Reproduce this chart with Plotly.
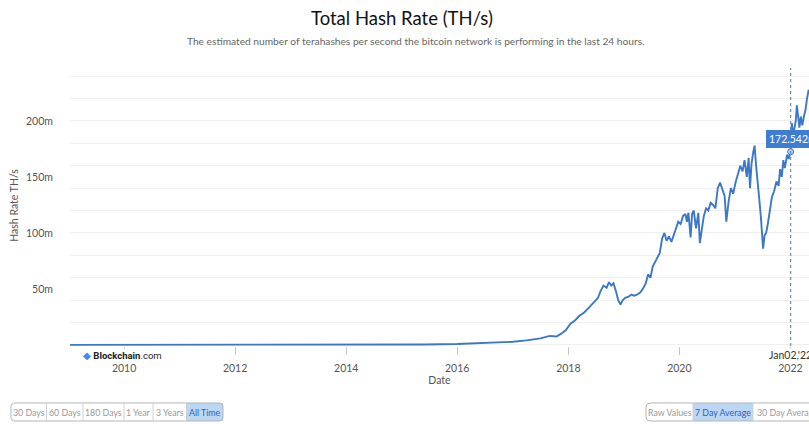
import plotly.graph_objects as go

# ---------------- data (values in millions TH/s) ----------------
dates = [
    "2009-01-10", "2010-06-01", "2011-06-01", "2012-06-01", "2013-06-01", "2014-01-01", "2014-06-01",
    "2015-01-01", "2015-06-01", "2016-01-01", "2016-06-01", "2016-10-01", "2017-01-01", "2017-04-01",
    "2017-07-01", "2017-09-01", "2017-10-15", "2017-11-15", "2017-12-15", "2018-01-15", "2018-02-15",
    "2018-03-15", "2018-04-15", "2018-05-15", "2018-06-15", "2018-07-15", "2018-08-01", "2018-08-20",
    "2018-09-10", "2018-09-25", "2018-10-10", "2018-10-25", "2018-11-10", "2018-11-25", "2018-12-10",
    "2018-12-25", "2019-01-10", "2019-02-01", "2019-02-20", "2019-03-10", "2019-04-01", "2019-04-20",
    "2019-05-10", "2019-05-25", "2019-06-10", "2019-06-25", "2019-07-10", "2019-07-25", "2019-08-10",
    "2019-08-25", "2019-09-10", "2019-09-25", "2019-10-10", "2019-10-25", "2019-11-10", "2019-11-25",
    "2019-12-10", "2019-12-25", "2020-01-10", "2020-01-25", "2020-02-10", "2020-02-20", "2020-03-01",
    "2020-03-15", "2020-03-25", "2020-04-05", "2020-04-20", "2020-05-05", "2020-05-15", "2020-05-25",
    "2020-06-10", "2020-06-25", "2020-07-10", "2020-07-25", "2020-08-10", "2020-08-25", "2020-09-10",
    "2020-09-25", "2020-10-10", "2020-10-25", "2020-11-05", "2020-11-20", "2020-12-05", "2020-12-20",
    "2021-01-05", "2021-01-20", "2021-02-05", "2021-02-20", "2021-03-05", "2021-03-20", "2021-04-01",
    "2021-04-10", "2021-04-20", "2021-05-01", "2021-05-10", "2021-05-20", "2021-05-28", "2021-06-10",
    "2021-06-20", "2021-07-01", "2021-07-05", "2021-07-15", "2021-07-25", "2021-08-05", "2021-08-20",
    "2021-09-01", "2021-09-15", "2021-10-01", "2021-10-15", "2021-10-25", "2021-11-05", "2021-11-15",
    "2021-11-25", "2021-12-10", "2021-12-20", "2022-01-02", "2022-01-10", "2022-01-18", "2022-01-25",
    "2022-02-05", "2022-02-12", "2022-02-22", "2022-03-01", "2022-03-10", "2022-03-20", "2022-04-01",
    "2022-04-10", "2022-04-20", "2022-05-01",
]
hash_rate_m = [
    0.0, 0.0, 0.00001, 0.00002, 0.0002, 0.01, 0.09,
    0.3, 0.38, 0.8, 1.4, 1.8, 2.8, 4.0,
    5.8, 8.0, 7.5, 10, 13, 19, 22,
    26, 29, 33, 38, 42, 48, 53,
    51, 56, 53, 55, 48, 40, 36,
    40, 42, 43, 45, 44, 45, 47,
    51, 55, 63, 60, 70, 74, 78,
    82, 95, 100, 93, 97, 92, 98,
    102, 110, 108, 115, 117, 110, 118,
    96, 117, 120, 104, 118, 91, 100,
    115, 122, 120, 127, 125, 122, 140,
    145, 138, 133, 110, 128, 140, 135,
    145, 152, 160, 155, 165, 150, 167,
    140, 162, 172, 178, 160, 150, 130,
    115, 95, 86, 98, 100, 108, 120,
    132, 137, 146, 142, 157, 150, 165,
    158, 170, 166, 172.542, 198, 188, 192,
    200, 214, 200, 194, 204, 196, 205,
    210, 220, 228,
]
cursor_date = "2022-01-02"
cursor_value = 172.542
cursor_label = "Jan02,'22"
y_label_ticks = [50, 100, 150, 200]
y_grid_ticks = list(range(0, 241, 20))
range_buttons = ["30 Days", "60 Days", "180 Days", "1 Year", "3 Years", "All Time"]
avg_buttons = ["Raw Values", "7 Day Average", "30 Day Average"]

# ---------------- geometry (window pixels) ----------------
W, H = 809, 424
L, R_PX, T, B_PX = 70, 809, 65, 346          # plot area
Y_RANGE = [-1, 250]


def px(x):
    return (x - L) / (R_PX - L)


def py(y):
    return (B_PX - y) / (B_PX - T)


BLUE = "#3b78c9"
FONT = "Lato, 'Open Sans', sans-serif"

fig = go.Figure()
fig.add_trace(go.Scatter(
    x=dates, y=hash_rate_m, mode="lines",
    line=dict(color=BLUE, width=1.9), hoverinfo="skip", showlegend=False,
))
fig.add_trace(go.Scatter(
    x=[cursor_date], y=[cursor_value], mode="markers",
    marker=dict(size=6, color="#b7cdee", line=dict(color=BLUE, width=1)),
    hoverinfo="skip", showlegend=False,
))
# invisible trace so that the label axis is rendered
fig.add_trace(go.Scatter(
    x=[dates[0]], y=[hash_rate_m[0]], yaxis="y2", mode="markers",
    marker=dict(opacity=0), hoverinfo="skip", showlegend=False,
))

shapes = []
annotations = []

# crosshair
shapes.append(dict(type="line", xref="x", yref="paper", x0=cursor_date, x1=cursor_date,
                   y0=0, y1=py(68), line=dict(color="#6f8fc4", width=1.3, dash="dot")))
annotations.append(dict(x=cursor_date, y=cursor_value, xref="x", yref="y", text=f"{cursor_value:.3f}m",
                        showarrow=False, yshift=13, xshift=2, yanchor="middle", xanchor="center",
                        bgcolor="#3f7dd4", bordercolor="#3f7dd4", borderpad=2,
                        font=dict(color="white", size=10.5, family=FONT)))
annotations.append(dict(x=cursor_date, y=py(355), xref="x", yref="paper", text=cursor_label,
                        showarrow=False, bgcolor="white", borderpad=0, yanchor="middle", xanchor="center",
                        font=dict(color="#333", size=10.5, family=FONT)))

# Blockchain.com logo
annotations.append(dict(x=px(81), y=py(355), xref="paper", yref="paper", xanchor="left", yanchor="middle",
                        text="<span style='color:#3d8bf2'>◆</span> <b>Blockchain</b>.com",
                        showarrow=False, bgcolor="white", borderpad=1,
                        font=dict(color="#222", size=9.5, family="Roboto, sans-serif")))

# titles
annotations.append(dict(x=px(402), y=py(18), xref="paper", yref="paper", xanchor="center", yanchor="middle",
                        text="Total Hash Rate (TH/s)", showarrow=False,
                        font=dict(color="#111", size=18.5, family=FONT)))
annotations.append(dict(x=px(416), y=py(41), xref="paper", yref="paper", xanchor="center", yanchor="middle",
                        text="The estimated number of terahashes per second the bitcoin network is performing in the last 24 hours.",
                        showarrow=False,
                        font=dict(color="#666", size=10.2, family=FONT)))


def rounded_path(x0, y0, x1, y1, r):
    def P(x, y):
        return f"{px(x):.5f},{py(y):.5f}"
    return (f"M {P(x0 + r, y0)} L {P(x1 - r, y0)} Q {P(x1, y0)} {P(x1, y0 + r)} "
            f"L {P(x1, y1 - r)} Q {P(x1, y1)} {P(x1 - r, y1)} L {P(x0 + r, y1)} "
            f"Q {P(x0, y1)} {P(x0, y1 - r)} L {P(x0, y0 + r)} Q {P(x0, y0)} {P(x0 + r, y0)} Z")


def button_group(edges, labels, selected, y0=403, y1=421):
    sx0, sx1 = edges[selected], edges[selected + 1]
    shapes.append(dict(type="rect", xref="paper", yref="paper", x0=px(sx0), x1=px(sx1),
                       y0=py(y1), y1=py(y0), fillcolor="#bcd7f4", line=dict(width=0), layer="below"))
    shapes.append(dict(type="path", xref="paper", yref="paper",
                       path=rounded_path(edges[0], y0, edges[-1], y1, 4),
                       line=dict(color="#b5b5b5", width=1)))
    for e in edges[1:-1]:
        shapes.append(dict(type="line", xref="paper", yref="paper", x0=px(e), x1=px(e),
                           y0=py(y1), y1=py(y0), line=dict(color="#d0d0d0", width=1)))
    for i, lab in enumerate(labels):
        cx = (edges[i] + edges[i + 1]) / 2
        annotations.append(dict(x=px(cx), y=py((y0 + y1) / 2), xref="paper", yref="paper",
                                xanchor="center", yanchor="middle",
                                text=lab, showarrow=False,
                                font=dict(size=8.8, family=FONT,
                                          color="#2f62c0" if i == selected else "#999")))


button_group([11, 46.5, 83, 124, 153, 186.5, 223], range_buttons, 5)
button_group([646, 693, 753, 822], avg_buttons, 1)

fig.update_layout(
    width=W, height=H,
    margin=dict(l=L, r=W - R_PX, t=T, b=H - B_PX),
    paper_bgcolor="white", plot_bgcolor="white",
    showlegend=False,
    font=dict(family=FONT, color="#555"),
    shapes=shapes, annotations=annotations,
    xaxis=dict(
        type="date", range=["2009-01-10", "2022-05-03"],
        tick0="2010-01-01", dtick="M24", tickformat="%Y",
        showgrid=False, zeroline=False, showline=False,
        ticks="outside", ticklen=8, tickcolor="#c8c8c8", tickwidth=1,
        ticklabelstandoff=4,
        tickfont=dict(size=10.5, color="#555"),
        title=dict(text="Date", font=dict(size=10.5, color="#555"), standoff=0),
    ),
    yaxis=dict(
        range=Y_RANGE, tickvals=y_grid_ticks, showticklabels=False,
        showgrid=True, gridcolor="#efefef", gridwidth=1, zeroline=False, showline=False, ticks="",
    ),
    yaxis2=dict(
        overlaying="y", side="left", range=Y_RANGE, tickvals=y_label_ticks,
        ticktext=[f"{v}m" for v in y_label_ticks],
        showgrid=False, zeroline=False, showline=False,
        ticks="outside", ticklen=14, tickcolor="rgba(0,0,0,0)",
        tickfont=dict(size=10.5, color="#555"),
        title=dict(text="Hash Rate TH/s", font=dict(size=10.5, color="#555"), standoff=5),
    ),
)

# the page is photographed at exactly the figure size: drop the default body margin
fig.write_html("out.html", config={"displayModeBar": False},
               post_script="document.body.style.margin='0';document.body.style.overflow='hidden';")
